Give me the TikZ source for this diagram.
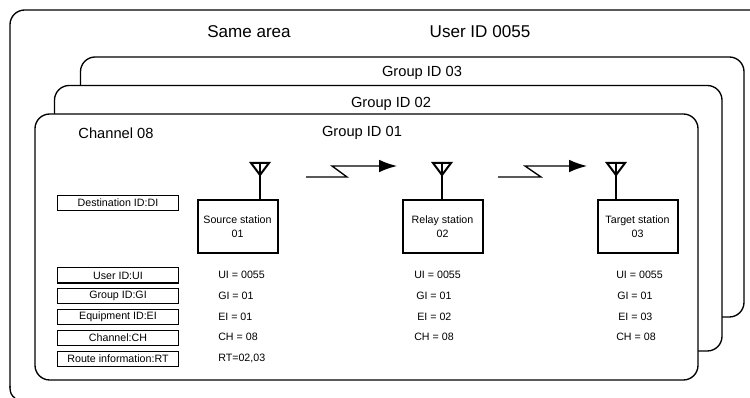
\documentclass[tikz,border=0pt]{standalone}
\usepackage{fontspec}
\setmainfont{Liberation Sans}
\usetikzlibrary{arrows.meta}
\tikzset{
  areabox/.style={draw, line width=1pt, fill=white, rounded corners=11pt},
  titletext/.style={inner sep=0pt, font=\fontsize{12.8}{14}\selectfont},
  grouptext/.style={inner sep=0pt, font=\fontsize{11}{13}\selectfont},
  stationbox/.style={draw, line width=1.5pt, minimum width=60pt, minimum height=39.5pt, inner sep=0pt, outer sep=0pt, align=center, font=\fontsize{8}{10.5}\selectfont},
  fieldbox/.style={draw, line width=1pt, minimum width=91pt, minimum height=11.5pt, inner sep=0pt, font=\fontsize{8}{10}\selectfont},
  valuetext/.style={anchor=west, inner sep=0pt, font=\fontsize{8}{10}\selectfont},
  antenna/.style={line width=1.5pt, line join=miter},
  radiolink/.style={line width=1pt, -{Latex[length=13.5pt, width=9.5pt]}}
}
\begin{document}
\begin{tikzpicture}[x=0.75pt, y=-0.75pt]
\useasboundingbox (0,0) rectangle (750,398);

\draw[line width=1pt, rounded corners=11pt] (750,10) -- (10,10) -- (10,388);
\draw[line width=1pt] (10,386) -- (10,388) .. controls (10,392) and (11.5,396) .. (15,398);
\draw[areabox] (80.5,57) rectangle (744,317);
\draw[areabox] (54.5,85.5) rectangle (722,351);
\draw[areabox] (35,114) rectangle (698,380);

\node[titletext] (samearea) at (249,32) {Same area};
\node[titletext] (userid) at (480,32) {User ID 0055};
\node[grouptext] (group3) at (422,73) {Group ID 03};
\node[grouptext] (group2) at (391,104) {Group ID 02};
\node[grouptext] (group1) at (362,133) {Group ID 01};
\node[grouptext] (channel) at (116,133) {Channel 08};

\node[stationbox] (source) at (237.5,226.5) {Source station\\01};
\node[stationbox] (relay) at (442.5,226.5) {Relay station\\02};
\node[stationbox] (target) at (637.5,226.5) {Target station\\03};

\coordinate (sourcetop) at (260,163);
\coordinate (relaytop) at (442,163);
\coordinate (targettop) at (616,163);
\draw[antenna] (sourcetop) -- (sourcetop |- source.north);
\draw[antenna] (relaytop) -- (relaytop |- relay.north);
\draw[antenna] (targettop) -- (targettop |- target.north);
\draw[antenna] (251,163) -- (269,163) -- (260,175) -- cycle;
\draw[antenna] (433,163) -- (451,163) -- (442,175) -- cycle;
\draw[antenna] (607,163) -- (625,163) -- (616,175) -- cycle;

\coordinate (linkastart) at (306,177);
\coordinate (linkaend) at (397,166);
\coordinate (linkbstart) at (498,177);
\coordinate (linkbend) at (587,166);
\draw[radiolink] (linkastart) -- (347,177) -- (332,166) -- (linkaend);
\draw[radiolink] (linkbstart) -- (541,177) -- (525,166) -- (linkbend);

\node[fieldbox] (destfield) at (118,203) {Destination ID:DI};
\node[fieldbox] (userfield) at (118,275.5) {User ID:UI};
\node[fieldbox] (groupfield) at (118,296) {Group ID:GI};
\node[fieldbox] (equipfield) at (118,317) {Equipment ID:EI};
\node[fieldbox] (chanfield) at (118,338) {Channel:CH};
\node[fieldbox] (routefield) at (118,359) {Route information:RT};

\node[valuetext] (sourceui) at (218,275) {UI = 0055};
\node[valuetext] (sourcegi) at (218,296) {GI = 01};
\node[valuetext] (sourceei) at (218,317) {EI = 01};
\node[valuetext] (sourcech) at (218,337) {CH = 08};
\node[valuetext] (sourcert) at (218,358) {RT=02,03};

\node[valuetext] (relayui) at (414,275) {UI = 0055};
\node[valuetext] (relaygi) at (416,296) {GI = 01};
\node[valuetext] (relayei) at (417,317) {EI = 02};
\node[valuetext] (relaych) at (414,337) {CH = 08};

\node[valuetext] (targetui) at (616,275) {UI = 0055};
\node[valuetext] (targetgi) at (617,296) {GI = 01};
\node[valuetext] (targetei) at (618,317) {EI = 03};
\node[valuetext] (targetch) at (616,337) {CH = 08};
\end{tikzpicture}
\end{document}
